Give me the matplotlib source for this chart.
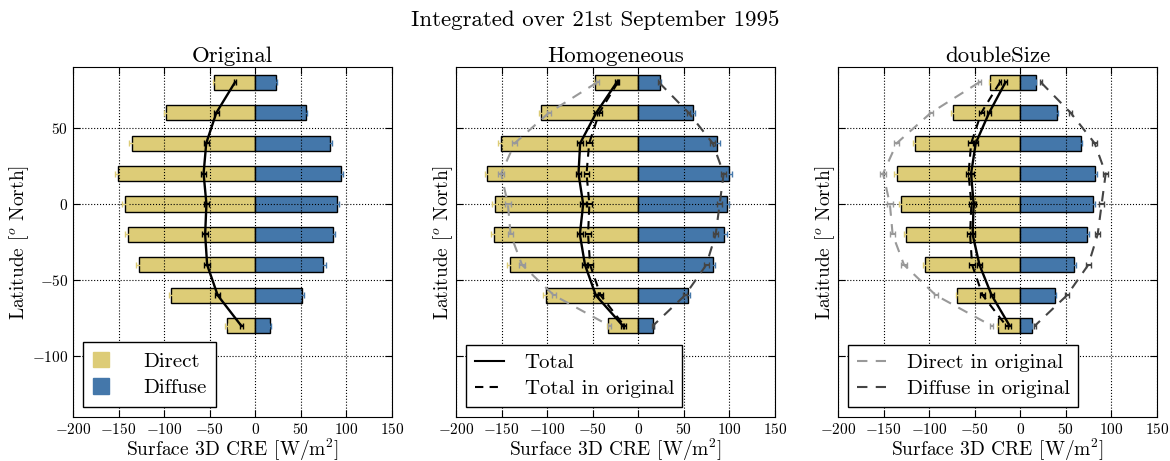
import numpy as np
import matplotlib
matplotlib.use('Agg')
import matplotlib.pyplot as plt
from matplotlib.patches import Patch
from matplotlib.lines import Line2D

plt.rcParams['font.family'] = 'serif'
plt.rcParams['font.serif'] = ['cmr10', 'DejaVu Serif']
plt.rcParams['mathtext.fontset'] = 'cm'
plt.rcParams['axes.formatter.use_mathtext'] = True
plt.rcParams['axes.unicode_minus'] = True

# Breitengrade der Bänder
lat = np.array([80, 60, 40, 20, 0, -20, -40, -60, -80])

# Original
direct_orig = np.array([-45, -98, -135.5, -150.5, -143, -140, -127.5, -92.5, -31.5])
diffuse_orig = np.array([22.7, 55.3, 81.7, 93.8, 89.4, 85.0, 74.7, 51.3, 16.1])
err_direct_orig = np.array([1.5, 2.5, 3.0, 3.0, 3.0, 3.0, 3.0, 2.5, 1.5])
err_diffuse_orig = np.array([1.0, 2.0, 2.5, 2.5, 2.5, 2.5, 2.5, 2.0, 1.0])
err_total_orig = np.array([1.5, 2.5, 3.0, 3.0, 3.0, 3.0, 3.0, 2.5, 1.5])

# Homogeneous
direct_hom = np.array([-47, -106.5, -150.5, -165.5, -157.5, -158.5, -140.5, -101.5, -33])
diffuse_hom = np.array([23.5, 60.5, 86.8, 100.0, 97.1, 94.5, 82.1, 55.0, 16.1])
err_direct_hom = np.array([1.5, 2.5, 3.0, 3.0, 3.0, 3.0, 3.0, 2.5, 1.5])
err_diffuse_hom = np.array([1.0, 2.0, 2.5, 2.5, 2.5, 2.5, 2.5, 2.0, 1.0])
err_total_hom = np.array([1.5, 2.5, 3.0, 3.0, 3.0, 3.0, 3.0, 2.5, 1.5])

# doubleSize
direct_dbl = np.array([-33, -74, -115, -135.5, -130.5, -125, -104, -69, -24])
diffuse_dbl = np.array([16.8, 39.9, 66.2, 81.6, 79.4, 72.8, 59.3, 37.7, 12.4])
err_direct_dbl = np.array([1.5, 2.0, 2.5, 3.0, 3.0, 3.0, 2.5, 2.0, 1.5])
err_diffuse_dbl = np.array([1.0, 1.5, 2.0, 2.5, 2.5, 2.5, 2.0, 1.5, 1.0])
err_total_dbl = np.array([1.5, 2.0, 2.5, 3.0, 3.0, 3.0, 2.5, 2.0, 1.5])

titles = ['Original', 'Homogeneous', 'doubleSize']
cases = [
    (direct_orig, diffuse_orig, err_direct_orig, err_diffuse_orig, err_total_orig),
    (direct_hom, diffuse_hom, err_direct_hom, err_diffuse_hom, err_total_hom),
    (direct_dbl, diffuse_dbl, err_direct_dbl, err_diffuse_dbl, err_total_dbl),
]

c_direct = '#DDCC77'
c_diffuse = '#4477AA'
c_ldir = '#999999'
c_ldif = '#444444'

total_orig = direct_orig + diffuse_orig

fig = plt.figure(figsize=(11.7, 4.61), dpi=100)
fig.suptitle('Integrated over 21st September 1995', fontsize=16.5, x=0.509, y=0.978)

lefts = [0.0624, 0.3897, 0.7162]
for k in range(3):
    ax = fig.add_axes([lefts[k], 0.0954, 0.2726, 0.759])
    direct, diffuse, ed, ef, et = cases[k]
    total = direct + diffuse

    ax.barh(lat, direct, height=10, color=c_direct, edgecolor='k', linewidth=1, zorder=1)
    ax.barh(lat, diffuse, height=10, color=c_diffuse, edgecolor='k', linewidth=1, zorder=1)
    ax.errorbar(direct, lat, xerr=ed, fmt='none', ecolor=c_direct, capsize=2, elinewidth=1, zorder=2)
    ax.errorbar(diffuse, lat, xerr=ef, fmt='none', ecolor=c_diffuse, capsize=2, elinewidth=1, zorder=2)

    if k > 0:
        # Vergleich mit dem Original
        ax.errorbar(direct_orig, lat, xerr=err_direct_orig, color=c_ldir, ls='--',
                    dashes=(5, 4), lw=1.5, capsize=2.5, zorder=3)
        ax.errorbar(diffuse_orig, lat, xerr=err_diffuse_orig, color=c_ldif, ls='--',
                    dashes=(5, 4), lw=1.5, capsize=2.5, zorder=3)
        ax.errorbar(total_orig, lat, xerr=err_total_orig, color='k', ls='--',
                    dashes=(4, 3), lw=1.5, capsize=2.5, zorder=4)

    ax.errorbar(total, lat, xerr=et, color='k', lw=1.7, capsize=2.5, zorder=5)

    ax.set_xlim(-200, 150)
    ax.set_ylim(-140, 90)
    ax.set_xticks(np.arange(-200, 151, 50))
    ax.set_yticks([-100, -50, 0, 50])
    ax.grid(True, color='k', linestyle=':', linewidth=0.8)
    ax.tick_params(direction='in', top=True, right=True, labelsize=11, length=5)
    if k > 0:
        ax.tick_params(labelleft=False)
    ax.set_title(titles[k], fontsize=16.5, pad=4)
    ax.set_xlabel('Surface 3D CRE [W/m$^2$]', fontsize=14, labelpad=0)
    ax.set_ylabel('Latitude [$^o$ North]', fontsize=14, labelpad=1)

    if k == 0:
        handles = [Patch(facecolor=c_direct, edgecolor=c_direct),
                   Patch(facecolor=c_diffuse, edgecolor=c_diffuse)]
        labels = ['Direct', 'Diffuse']
        leg = ax.legend(handles, labels, loc='lower left', fontsize=15, fancybox=False,
                        handlelength=0.8, handleheight=0.8, handletextpad=1.6,
                        borderpad=0.45, borderaxespad=0.5, labelspacing=0.35)
    elif k == 1:
        handles = [Line2D([], [], color='k', lw=1.5),
                   Line2D([], [], color='k', lw=1.5, ls='--', dashes=(4, 3))]
        labels = ['Total', 'Total in original']
        leg = ax.legend(handles, labels, loc='lower left', fontsize=15, fancybox=False,
                        handlelength=1.4, handletextpad=1.0, borderpad=0.4,
                        labelspacing=0.35)
    else:
        handles = [Line2D([], [], color=c_ldir, lw=1.5, ls='--', dashes=(5, 4)),
                   Line2D([], [], color=c_ldif, lw=1.5, ls='--', dashes=(5, 4))]
        labels = ['Direct in original', 'Diffuse in original']
        leg = ax.legend(handles, labels, loc='lower left', fontsize=15, fancybox=False,
                        handlelength=1.4, handletextpad=1.0, borderpad=0.4,
                        labelspacing=0.35)
    leg.get_frame().set_edgecolor('k')
    leg.get_frame().set_alpha(1)

fig.savefig('out.png', dpi=100)
